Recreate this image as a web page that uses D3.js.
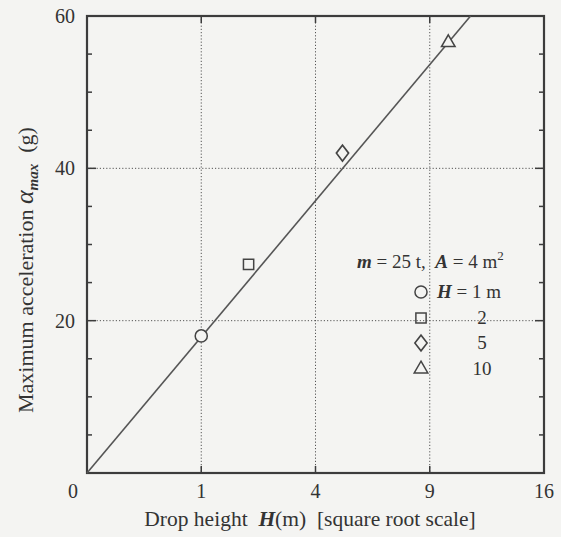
<!DOCTYPE html>
<html lang="en">
<head>
<meta charset="UTF-8">
<title>Maximum acceleration vs drop height</title>
<style>
  body { margin: 0; background: #f4f4f2; }
  svg { font-family: "Liberation Serif", "DejaVu Serif", serif; }
  text { white-space: pre; }
</style>
</head>
<body>
<div id="chart"></div>
<script src="https://d3js.org/d3.v7.min.js"></script>
<script>
// data
var dropHeights = [1, 2, 5, 10];
var accelValues = [18, 27.4, 42, 56.5];
var symbolTypes = ["circle", "square", "diamond", "triangle"];
var legendLabels = ["1 m", "2", "5", "10"];
var fitH = [0, 11.27];
var fitA = [0, 60];
var xTicks = [0, 1, 4, 9, 16];
var yTicks = [20, 40, 60];
var yMinor = [5, 10, 15, 25, 30, 35, 45, 50, 55];

var W = 561, H = 537;
var margin = {top: 16, right: 17, bottom: 64, left: 87};
var w = W - margin.left - margin.right, h = H - margin.top - margin.bottom;

var svg = d3.select("#chart").append("svg")
    .attr("width", W).attr("height", H);
var g = svg.append("g")
    .attr("transform", "translate(" + margin.left + "," + margin.top + ")");

var x = d3.scaleSqrt().domain([0, 16]).range([0, w]);
var y = d3.scaleLinear().domain([0, 60]).range([h, 0]);
var ink = "#3c3c3c";

// grid
g.selectAll(".gx").data([1, 4, 9]).enter().append("line")
    .attr("x1", d => x(d)).attr("x2", d => x(d)).attr("y1", 0).attr("y2", h)
    .attr("stroke", "#555").attr("stroke-width", 1).attr("stroke-dasharray", "1.2,2");
g.selectAll(".gy").data([20, 40]).enter().append("line")
    .attr("y1", d => y(d)).attr("y2", d => y(d)).attr("x1", 0).attr("x2", w)
    .attr("stroke", "#555").attr("stroke-width", 1).attr("stroke-dasharray", "1.2,2");

// inner ticks on all four sides
function tickLines(vals, len, side) {
    g.append("g").selectAll("line").data(vals).enter().append("line")
        .attr("x1", d => side === "left" ? 0 : side === "right" ? w : x(d))
        .attr("x2", d => side === "left" ? len : side === "right" ? w - len : x(d))
        .attr("y1", d => side === "top" ? 0 : side === "bottom" ? h : y(d))
        .attr("y2", d => side === "top" ? len : side === "bottom" ? h - len : y(d))
        .attr("stroke", ink).attr("stroke-width", 1.5);
}
tickLines([20, 40], 9, "left");
tickLines(yMinor, 5, "left");
tickLines([20, 40], 9, "right");
tickLines(yMinor, 5, "right");
tickLines([1, 4, 9], 7, "bottom");
tickLines([1, 4, 9], 7, "top");

// frame
g.append("rect").attr("width", w).attr("height", h)
    .attr("fill", "none").attr("stroke", ink).attr("stroke-width", 2.2);

// tick labels
g.append("g").selectAll("text").data(xTicks.slice(1)).enter().append("text")
    .attr("x", d => x(d)).attr("y", h + 25)
    .attr("text-anchor", "middle").attr("font-size", 20).attr("fill", "#333")
    .text(d => d);
g.append("text").attr("x", -14).attr("y", h + 25)
    .attr("text-anchor", "middle").attr("font-size", 20).attr("fill", "#333").text(xTicks[0]);
g.append("g").selectAll("text").data(yTicks).enter().append("text")
    .attr("x", -12).attr("y", d => y(d) + 7)
    .attr("text-anchor", "end").attr("font-size", 20).attr("fill", "#333")
    .text(d => d);

// fitted line
var line = d3.line().x((d, i) => x(fitH[i])).y(d => y(d));
g.append("path").datum(fitA).attr("d", line)
    .attr("fill", "none").attr("stroke", "#555").attr("stroke-width", 1.6);

// points
var shapes = {circle: d3.symbolCircle, square: d3.symbolSquare, diamond: d3.symbolDiamond, triangle: d3.symbolTriangle};
var sizes = {circle: 115, square: 105, diamond: 90, triangle: 80};
function sym(t) { return d3.symbol().type(shapes[t]).size(sizes[t])(); }

g.selectAll(".pt").data(dropHeights).enter().append("path")
    .attr("transform", (d, i) => "translate(" + x(d) + "," + y(accelValues[i]) + ")" + (symbolTypes[i] === "diamond" ? " scale(1.2,0.9)" : ""))
    .attr("d", (d, i) => sym(symbolTypes[i]))
    .attr("fill", "#f4f4f2").attr("stroke", "#444").attr("stroke-width", 1.5);

// legend
var lg = svg.append("g").attr("font-size", 19).attr("fill", "#333");
var head = lg.append("text").attr("x", 357).attr("y", 268);
head.append("tspan").attr("font-style", "italic").attr("font-weight", "bold").text("m");
head.append("tspan").text(" = 25 t,  ");
head.append("tspan").attr("font-style", "italic").attr("font-weight", "bold").text("A");
head.append("tspan").text(" = 4 m");
head.append("tspan").attr("font-size", 13).attr("dy", -8).text("2");

var rowY = [298, 324, 349, 375];
symbolTypes.forEach(function (t, i) {
    lg.append("path")
        .attr("transform", "translate(421," + (rowY[i] - 6) + ")" + (t === "diamond" ? " scale(1.2,0.9)" : ""))
        .attr("d", sym(t))
        .attr("fill", "none").attr("stroke", "#444").attr("stroke-width", 1.5);
    if (i === 0) {
        var tx = lg.append("text").attr("x", 437).attr("y", rowY[i]);
        tx.append("tspan").attr("font-style", "italic").attr("font-weight", "bold").text("H");
        tx.append("tspan").text(" = " + legendLabels[i]);
    } else {
        lg.append("text").attr("x", 482).attr("y", rowY[i])
            .attr("text-anchor", "middle").text(legendLabels[i]);
    }
});

// axis titles
var xt = svg.append("text").attr("x", 310).attr("y", 526)
    .attr("text-anchor", "middle").attr("font-size", 21.5).attr("fill", "#333");
xt.append("tspan").text("Drop height  ");
xt.append("tspan").attr("font-style", "italic").attr("font-weight", "bold").text("H");
xt.append("tspan").text("(m)  [square root scale]");

var yt = svg.append("text").attr("transform", "translate(33,270) rotate(-90)")
    .attr("text-anchor", "middle").attr("font-size", 22).attr("fill", "#333");
yt.append("tspan").text("Maximum acceleration ");
yt.append("tspan").attr("font-style", "italic").attr("font-size", 26).text("α");
yt.append("tspan").attr("font-style", "italic").attr("font-weight", "bold").attr("font-size", 15).attr("dy", 5).text("max");
yt.append("tspan").attr("dy", -5).text("  (g)");
</script>
</body>
</html>
